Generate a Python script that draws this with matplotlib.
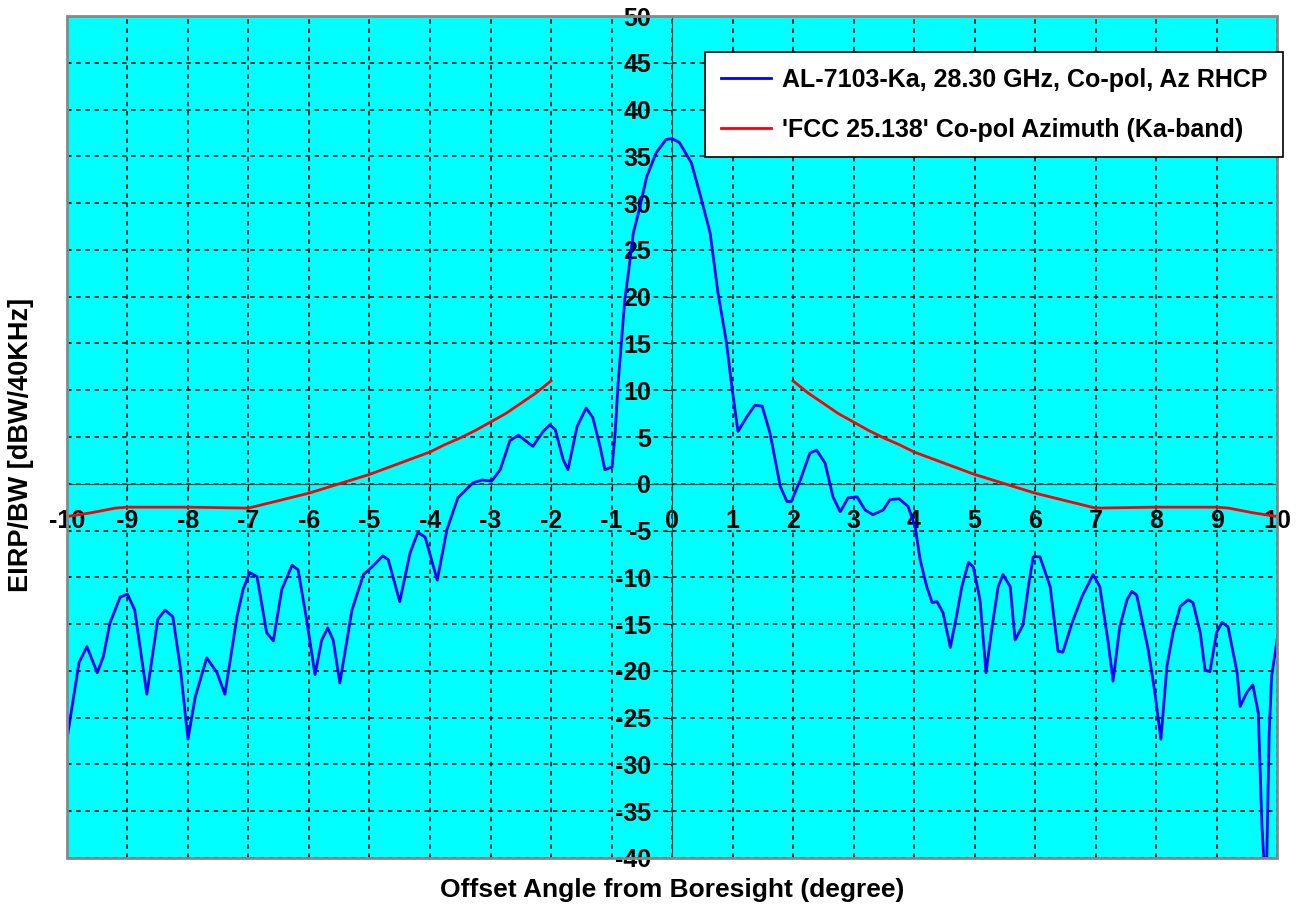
import numpy as np
import matplotlib
matplotlib.use("Agg")
import matplotlib.pyplot as plt
from matplotlib.patches import Rectangle

plt.rcParams['font.family'] = ['Liberation Sans', 'DejaVu Sans']
plt.rcParams['font.weight'] = 'bold'
plt.rcParams['axes.unicode_minus'] = False

# measured co-pol azimuth pattern (offset angle in degrees, EIRP density dBW/40kHz)
angle = [-10.0, -9.8, -9.67, -9.5, -9.4, -9.29, -9.12, -9.0, -8.88, -8.68,
         -8.5, -8.38, -8.25, -8.13, -8.0, -7.88, -7.69, -7.52, -7.39, -7.19,
         -7.09, -6.98, -6.86, -6.7, -6.59, -6.45, -6.28, -6.18, -6.04, -5.9,
         -5.79, -5.69, -5.6, -5.49, -5.29, -5.1, -4.96, -4.78, -4.69, -4.5,
         -4.33, -4.2, -4.08, -3.88, -3.72, -3.54, -3.29, -3.14, -2.98, -2.84,
         -2.68, -2.54, -2.3, -2.13, -2.02, -1.93, -1.8, -1.72, -1.57, -1.42,
         -1.31, -1.19, -1.11, -0.99, -0.94, -0.89, -0.78, -0.73, -0.64, -0.53,
         -0.42, -0.26, -0.1, 0.0, 0.12, 0.32, 0.49, 0.63, 0.76, 0.9,
         0.99, 1.09, 1.24, 1.37, 1.49, 1.62, 1.79, 1.9, 1.97, 2.12,
         2.28, 2.39, 2.53, 2.66, 2.78, 2.91, 3.06, 3.19, 3.32, 3.49,
         3.6, 3.75, 3.9, 4.02, 4.1, 4.21, 4.3, 4.38, 4.48, 4.6,
         4.7, 4.79, 4.9, 4.98, 5.09, 5.19, 5.29, 5.39, 5.47, 5.59,
         5.67, 5.8, 5.89, 5.97, 6.08, 6.25, 6.38, 6.46, 6.61, 6.78,
         6.96, 7.07, 7.21, 7.29, 7.4, 7.52, 7.6, 7.68, 7.87, 7.98,
         8.08, 8.18, 8.28, 8.4, 8.53, 8.61, 8.73, 8.81, 8.89, 9.0,
         9.09, 9.19, 9.34, 9.39, 9.5, 9.6, 9.69, 9.75, 9.78, 9.83,
         9.87, 9.91, 10.0]
eirp = [-27.3, -19.1, -17.4, -20.2, -18.5, -14.9, -12.1, -11.8, -13.5, -22.5,
        -14.5, -13.5, -14.2, -19.5, -27.3, -22.8, -18.6, -20.2, -22.5, -14.2,
        -11.3, -9.5, -9.9, -15.9, -16.8, -11.3, -8.7, -9.2, -14.5, -20.4,
        -16.7, -15.4, -16.7, -21.3, -13.5, -9.7, -8.9, -7.7, -8.1, -12.6,
        -7.4, -5.2, -5.7, -10.3, -4.9, -1.5, 0.1, 0.4, 0.3, 1.5,
        4.6, 5.2, 4.0, 5.6, 6.3, 5.8, 2.6, 1.5, 6.1, 8.1,
        7.1, 4.0, 1.5, 1.8, 5.4, 10.8, 19.7, 22.1, 26.8, 29.6,
        32.8, 35.4, 36.8, 36.9, 36.5, 34.3, 30.3, 26.8, 20.4, 15.1,
        10.3, 5.6, 7.2, 8.4, 8.3, 5.4, -0.3, -1.9, -1.9, 0.4,
        3.3, 3.6, 2.2, -1.4, -3.0, -1.5, -1.4, -2.8, -3.3, -2.8,
        -1.7, -1.6, -2.4, -4.6, -8.1, -11.0, -12.7, -12.6, -13.8, -17.5,
        -14.2, -11.0, -8.4, -8.9, -12.4, -20.2, -15.3, -11.0, -9.7, -11.0,
        -16.7, -15.1, -11.0, -7.8, -7.8, -11.0, -17.9, -18.0, -14.9, -12.0,
        -9.7, -11.0, -17.0, -21.1, -15.3, -12.4, -11.5, -11.9, -17.7, -22.3,
        -27.3, -19.5, -15.9, -13.1, -12.4, -12.7, -15.9, -19.9, -20.1, -15.9,
        -14.8, -15.3, -20.2, -23.8, -22.3, -21.5, -24.5, -36.6, -40.0, -40.0,
        -26.6, -20.6, -16.7]

# FCC 25.138 mask (|angle| 2..10 deg), mirrored on both sides
mask_angle = [2.0, 2.25, 2.5, 2.75, 3.0, 3.25, 3.5, 3.75, 4.0, 4.25, 4.5, 4.75,
              5.0, 5.25, 5.5, 5.75, 6.0, 6.25, 6.5, 6.75, 7.0, 8.0, 9.0, 9.2,
              9.6, 10.0]
mask_eirp = [11.0, 9.7, 8.6, 7.5, 6.6, 5.7, 4.9, 4.2, 3.4, 2.8, 2.2, 1.6,
             1.0, 0.5, 0.0, -0.5, -1.0, -1.4, -1.8, -2.2, -2.6, -2.5, -2.5, -2.6,
             -3.1, -3.5]

xticks = list(range(-10, 11))
yticks = list(range(-40, 51, 5))

fig = plt.figure(figsize=(13.03, 9.11), dpi=100)
ax = fig.add_axes([0.0514, 0.0582, 0.9287, 0.9242])
ax.set_facecolor('#00FFFF')

ax.plot(angle, eirp, color='#0000FF', lw=2.0, zorder=4,
        label='AL-7103-Ka, 28.30 GHz, Co-pol, Az RHCP')
ax.plot(mask_angle, mask_eirp, color='#FF0000', lw=2.0, zorder=3,
        label="'FCC 25.138' Co-pol Azimuth (Ka-band)")
ax.plot([-a for a in mask_angle], mask_eirp, color='#FF0000', lw=2.0, zorder=3)

ax.set_xlim(-10, 10)
ax.set_ylim(-40, 50)
ax.set_xticks(xticks)
ax.set_yticks(yticks)
ax.grid(True, color='black', linestyle=(0, (3, 3)), linewidth=1.1)

# axes cross through the origin
for s in ['top', 'right']:
    ax.spines[s].set_visible(False)
ax.spines['left'].set_position(('data', 0))
ax.spines['bottom'].set_position(('data', 0))
ax.spines['left'].set_color('#333333')
ax.spines['bottom'].set_color('#333333')
ax.add_patch(Rectangle((0, 0), 1, 1, transform=ax.transAxes, fill=False,
                       edgecolor='#888888', lw=2.0, clip_on=False, zorder=5))

ax.tick_params(axis='x', direction='out', length=4, pad=14, labelsize=18)
ax.tick_params(axis='y', direction='out', length=6, pad=9, labelsize=18)
for lab in ax.get_xticklabels() + ax.get_yticklabels():
    lab.set_fontweight('bold')

ax.set_xlabel('Offset Angle from Boresight (degree)', fontsize=19, fontweight='bold')
ax.set_ylabel('EIRP/BW [dBW/40KHz]', fontsize=19.5, fontweight='bold')
ax.xaxis.set_label_coords(0.5, -0.024)
ax.yaxis.set_label_coords(-0.027, 0.49)

leg = ax.legend(loc='upper left', bbox_to_anchor=(705 / 1303, 1 - 52 / 911),
                bbox_transform=fig.transFigure, fontsize=18, frameon=True,
                fancybox=False, framealpha=1, edgecolor='black',
                borderpad=0.62, labelspacing=1.05, handlelength=2.0,
                handletextpad=0.45, borderaxespad=0)
leg.get_frame().set_linewidth(1.2)
for t in leg.get_texts():
    t.set_fontweight('bold')
leg.set_zorder(10)

fig.savefig('out.png', dpi=100)
